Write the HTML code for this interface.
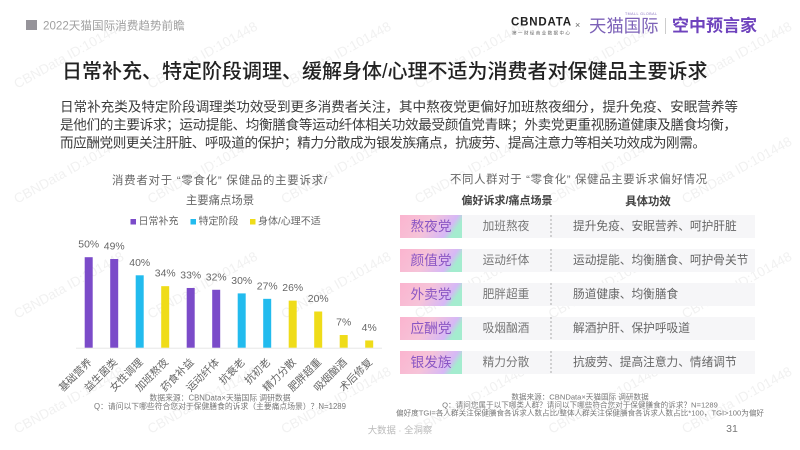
<!DOCTYPE html>
<html lang="zh">
<head>
<meta charset="utf-8">
<title>2022天猫国际消费趋势前瞻</title>
<style>
html,body{margin:0;padding:0;background:#fff;width:800px;height:450px;overflow:hidden}
svg{display:block;filter:blur(.35px)}
text{font-family:"Liberation Sans","Noto Sans CJK SC",sans-serif;dominant-baseline:central}
</style>
</head>
<body>
<svg id="slide" width="800" height="450" viewBox="0 0 800 450" xmlns="http://www.w3.org/2000/svg">
<defs>
<linearGradient id="pill" x1="0" y1="0" x2="1" y2="0.25">
<stop offset="0" stop-color="#fbb4cf"/><stop offset=".5" stop-color="#f6c3d8"/><stop offset=".88" stop-color="#d6b8f6"/><stop offset="1" stop-color="#a4eccf"/>
</linearGradient>
</defs>
<g id="watermarks"></g>

<g>
<rect x="26" y="20" width="11" height="10" fill="#96949a"/>
<text x="43" y="26" font-size="11.6" fill="#a0a0a0">2022天猫国际消费趋势前瞻</text>
<text x="511" y="22.5" font-size="11.5" font-weight="bold" fill="#222" textLength="60">CBNDATA</text>
<text x="512" y="33" font-size="4.6" fill="#666" textLength="58">第一财经商业数据中心</text>
<text x="575" y="25" font-size="9" fill="#666">×</text>
<text x="589" y="26" font-size="17.4" fill="#7d62b8">天猫国际</text>
<text x="625" y="14" font-size="3.6" fill="#8a74c0" textLength="32">TMALL GLOBAL</text>
<rect x="665" y="18" width="1" height="16" fill="#ccc"/>
<text x="672" y="26" font-size="17" font-weight="bold" fill="#6e42bd">空中预言家</text>
</g>

<text x="62" y="72" font-size="20" font-weight="500" fill="#222">日常补充、特定阶段调理、缓解身体/心理不适为消费者对保健品主要诉求</text>

<g font-size="13.6" fill="#3c3c3c">
<text x="60" y="107" textLength="678">日常补充类及特定阶段调理类功效受到更多消费者关注，其中熬夜党更偏好加班熬夜细分，提升免疫、安眠营养等</text>
<text x="60" y="125" textLength="677">是他们的主要诉求；运动提能、均衡膳食等运动纤体相关功效最受颜值党青睐；外卖党更重视肠道健康及膳食均衡，</text>
<text x="60" y="143" textLength="646">而应酬党则更关注肝脏、呼吸道的保护；精力分散成为银发族痛点，抗疲劳、提高注意力等相关功效成为刚需。</text>
</g>

<g font-size="11.4" fill="#666">
<text x="112" y="181" textLength="215">消费者对于 “零食化” 保健品的主要诉求/</text>
<text x="220" y="201" text-anchor="middle">主要痛点场景</text>
</g>
<g id="legend"></g>
<g id="chart"></g>

<g font-size="7.8" fill="#777" text-anchor="middle">
<text x="220" y="398">数据来源：CBNData×天猫国际 调研数据</text>
<text x="220" y="406.5">Q：请问以下哪些符合您对于保健膳食的诉求（主要痛点场景）？N=1289</text>
</g>

<text x="450" y="180" font-size="11.4" fill="#666" textLength="257">不同人群对于 “零食化” 保健品主要诉求偏好情况</text>
<text x="507" y="201" font-size="11" font-weight="bold" fill="#444" text-anchor="middle">偏好诉求/痛点场景</text>
<text x="648" y="202" font-size="11.4" font-weight="bold" fill="#444" text-anchor="middle">具体功效</text>
<g id="table"></g>

<g font-size="7.6" fill="#777" text-anchor="middle">
<text x="580" y="397">数据来源：CBNData×天猫国际 调研数据</text>
<text x="580" y="405">Q：请问您属于以下哪类人群？请问以下哪些符合您对于保健膳食的诉求？N=1289</text>
<text x="396" y="413" textLength="368" text-anchor="start">偏好度TGI=各人群关注保健膳食各诉求人数占比/整体人群关注保健膳食各诉求人数占比*100，TGI&gt;100为偏好</text>
</g>

<text x="400" y="430" font-size="9.4" fill="#bbb" text-anchor="middle">大数据 · 全洞察</text>
<text x="732" y="429" font-size="10.5" fill="#777" text-anchor="middle">31</text>
</svg>

<script>
const categories = ['基础营养','益生菌类','女性调理','加班熬夜','药食补益','运动纤体','抗衰老','抗初老','精力分散','肥胖超重','吸烟酗酒','术后修复'];
const values = [50,49,40,34,33,32,30,27,26,20,7,4];
const seriesIndex = [0,0,1,2,0,0,1,1,2,2,2,2];
const seriesNames = ['日常补充','特定阶段','身体/心理不适'];
const seriesColors = ['#7b4bc9','#22bbee','#efdc19'];

const groups = ['熬夜党','颜值党','外卖党','应酬党','银发族'];
const appeals = ['加班熬夜','运动纤体','肥胖超重','吸烟酗酒','精力分散'];
const effects = ['提升免疫、安眠营养、呵护肝脏','运动提能、均衡膳食、呵护骨关节','肠道健康、均衡膳食','解酒护肝、保护呼吸道','抗疲劳、提高注意力、情绪调节'];

const NS = 'http://www.w3.org/2000/svg';
function make(parent, tag, attrs, txt) {
  const el = document.createElementNS(NS, tag);
  for (const k in attrs) el.setAttribute(k, attrs[k]);
  if (txt !== undefined) el.textContent = txt;
  parent.appendChild(el);
  return el;
}

const baseY = 347.7;
const xAt = i => 88.7 + i * 25.5;
const hAt = v => v * 1.81;
const chart = document.getElementById('chart');

const axis = make(chart, 'rect', {x:76, y:baseY, width:306, height:1, fill:'#e6e6e6'});



categories.forEach((c, i) => {
  const h = hAt(values[i]);
  const bar = make(chart, 'rect', {x:xAt(i)-4, y:baseY-h, width:8, height:h, fill:seriesColors[seriesIndex[i]]});
  
  
  const val = make(chart, 'text', {x:xAt(i), y:baseY-h-12, 'font-size':10.4, fill:'#666', 'text-anchor':'middle'}, values[i] + '%');
  
  
  const lx = xAt(i) + 2, ly = 361;
  const lab = make(chart, 'text', {x:lx, y:ly, 'font-size':10.4, fill:'#666', 'text-anchor':'end', transform:'rotate(-45 ' + lx + ' ' + ly + ')'}, c);
  
  
});

const legend = document.getElementById('legend');
const legendSquares = [130.5, 190.5, 250];
seriesNames.forEach((n, i) => {
  const sw = make(legend, 'rect', {x:legendSquares[i], y:219, width:5.5, height:5.5, fill:seriesColors[i]});
  
  
  const t = make(legend, 'text', {x:legendSquares[i]+8, y:222, 'font-size':10, fill:'#666'}, n);
  
  
});

const table = document.getElementById('table');
groups.forEach((g, i) => {
  const y = 215 + i * 34;
  const row = make(table, 'rect', {x:400, y:y, width:355, height:23, fill:'#f6f6f8'});
  
  
  const pill = make(table, 'rect', {x:400, y:y, width:62, height:23, fill:'url(#pill)'});
  
  
  const name = make(table, 'text', {x:431, y:y+11.5, 'font-size':13.7, fill:'#8a56c4', 'text-anchor':'middle'}, g);
  
  
  const ap = make(table, 'text', {x:506, y:y+11.5, 'font-size':11.7, fill:'#777', 'text-anchor':'middle'}, appeals[i]);
  
  
  const dv = make(table, 'line', {x1:551, y1:y, x2:551, y2:y+23, stroke:'#aaa', 'stroke-width':1, 'stroke-dasharray':'2 2'});
  
  
  const ef = make(table, 'text', {x:573, y:y+11.5, 'font-size':11.7, fill:'#666'}, effects[i]);
  
  
});

const marks = document.getElementById('watermarks');
for (let r = 0; r < 4; r++) {
  for (let c = 0; c < 6; c++) {
    const wx = 15 + c * 133.6, wy = 85 + r * 115;
    const wm = make(marks, 'text', {x:wx, y:wy, 'font-size':13.5, fill:'#f1f1f1', transform:'rotate(-29 ' + wx + ' ' + wy + ')'}, 'CBNData ID:101448');
    
    
  }
}
</script>
</body>
</html>
